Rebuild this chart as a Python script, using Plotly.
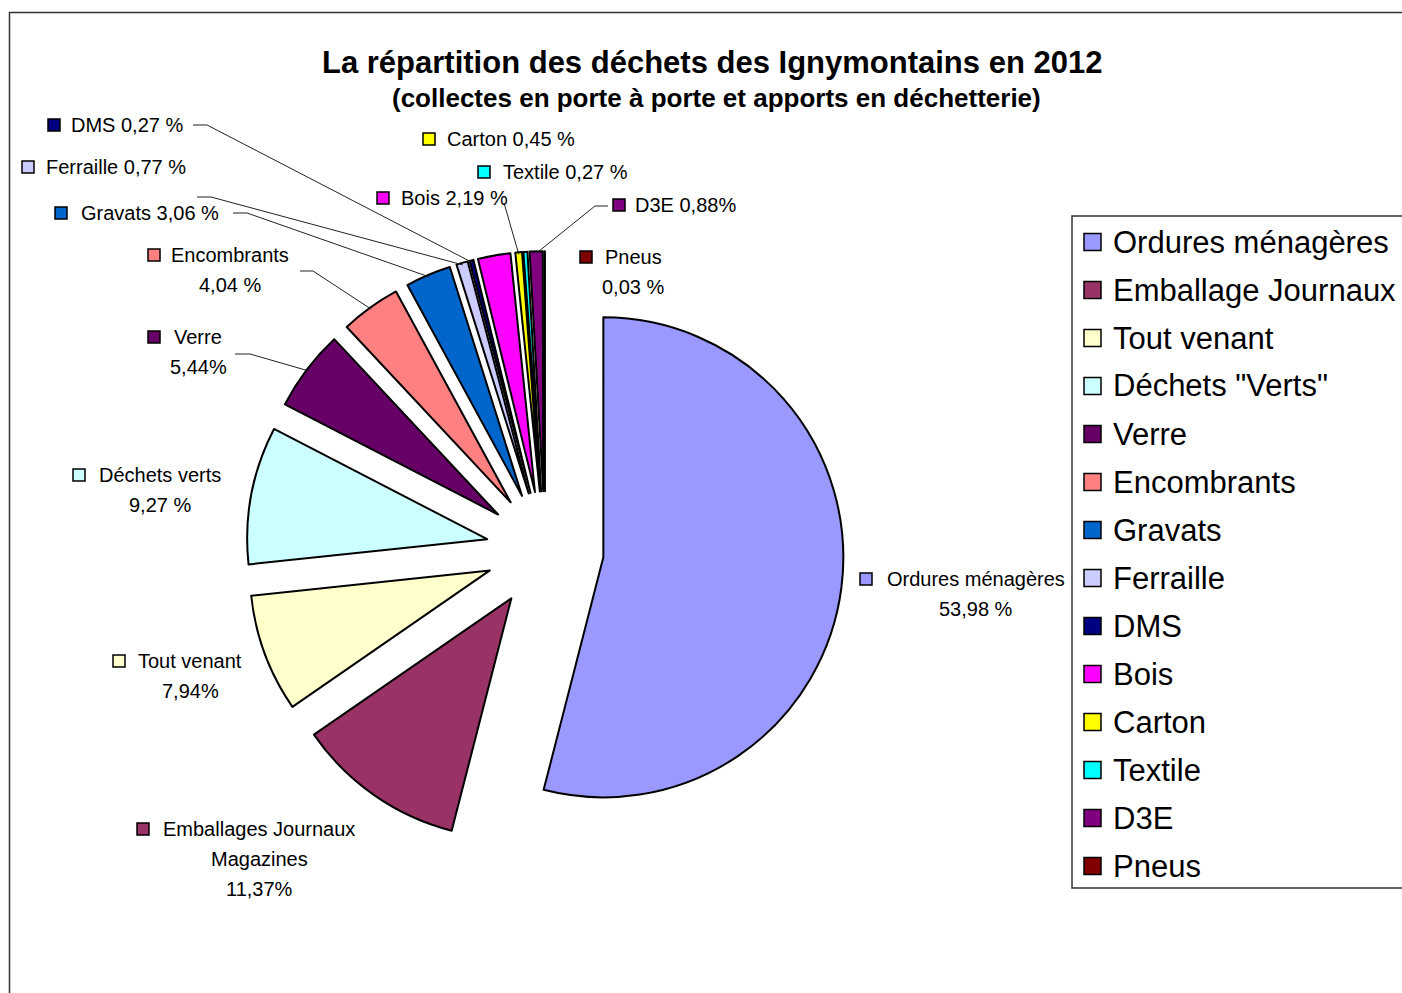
import math
import plotly.graph_objects as go

W, H = 1402, 993

# ---------------- data ----------------
categories = ["Ordures ménagères", "Emballage Journaux", "Tout venant", 'Déchets "Verts"',
              "Verre", "Encombrants", "Gravats", "Ferraille", "DMS", "Bois", "Carton",
              "Textile", "D3E", "Pneus"]
values = [53.98, 11.37, 7.94, 9.27, 5.44, 4.04, 3.06, 0.77, 0.27, 2.19, 0.45, 0.27, 0.88, 0.03]
colors = ["#9999FF", "#993366", "#FFFFCC", "#CCFFFF", "#660066", "#FF8080", "#0066CC",
          "#CCCCFF", "#000080", "#FF00FF", "#FFFF00", "#00FFFF", "#800080", "#800000"]

# data-label text (as printed on the chart)
label_lines = [
    ["Ordures ménagères", "53,98 %"],
    ["Emballages Journaux", "Magazines", "11,37%"],
    ["Tout venant", "7,94%"],
    ["Déchets verts", "9,27 %"],
    ["Verre", "5,44%"],
    ["Encombrants", "4,04 %"],
    ["Gravats 3,06 %"],
    ["Ferraille 0,77 %"],
    ["DMS 0,27 %"],
    ["Bois 2,19 %"],
    ["Carton 0,45 %"],
    ["Textile 0,27 %"],
    ["D3E 0,88%"],
    ["Pneus", "0,03 %"],
]

title_main = "La répartition des déchets des Ignymontains en 2012"
title_sub = "(collectes en porte à porte et apports en déchetterie)"

# ---------------- layout geometry (pixels) ----------------
CX, CY = 545, 550       # pie centre
R = 240                 # pie radius
PULL = 0.245            # explosion (fraction of radius)

# label placement: centre x of text, y of first line, x of legend key
label_pos = [
    (976, 579, 860), (259, 829, 137), (190, 661, 113), (160, 475, 73),
    (198, 337, 148), (230, 255, 148), (150, 213, 55), (116, 167, 22),
    (127, 125, 48), (454, 198, 377), (511, 139, 423), (565, 172, 478),
    (685, 205, 613), (633, 257, 580),
]
# leader lines: slice index -> label-side points
leaders = {
    8: [(193, 125), (207, 125)],
    7: [(197, 197), (211, 197)],
    6: [(233, 213), (247, 213)],
    5: [(300, 271), (313, 271)],
    4: [(235, 354), (250, 354)],
    10: [(504, 203)],
    12: [(608, 206), (595, 206)],
}


def px(x):
    return x / W


def py(y):
    return 1 - y / H


half = R * (1 + PULL)
dom_x = [px(CX - half), px(CX + half)]
dom_y = [py(CY + half), py(CY - half)]

fig = go.Figure()
fig.add_trace(go.Pie(
    labels=categories, values=values, sort=False, direction="clockwise", rotation=0,
    marker=dict(colors=colors, line=dict(color="black", width=2)),
    pull=[PULL] * len(values), textinfo="none", hoverinfo="label+percent",
    domain=dict(x=dom_x, y=dom_y), showlegend=False,
))

FONT = "Arial, Liberation Sans, sans-serif"
shapes = []
annotations = []

# title
annotations.append(dict(text="<b>" + title_main + "</b>", x=px(712), y=py(62), xref="paper", yref="paper",
                        showarrow=False, xanchor="center", yanchor="middle",
                        font=dict(family=FONT, size=31, color="black")))
annotations.append(dict(text="<b>" + title_sub + "</b>", x=px(716), y=py(98), xref="paper", yref="paper",
                        showarrow=False, xanchor="center", yanchor="middle",
                        font=dict(family=FONT, size=26, color="black")))

# data labels
total = sum(values)
cum = 0.0
mids = []
for v in values:
    mids.append((cum + v / 2) / total)
    cum += v

for i, lines in enumerate(label_lines):
    cx, y0, kx = label_pos[i]
    for j, t in enumerate(lines):
        annotations.append(dict(text=t, x=px(cx), y=py(y0 + 30 * j), xref="paper", yref="paper",
                                showarrow=False, xanchor="center", yanchor="middle",
                                font=dict(family=FONT, size=20, color="black")))
    shapes.append(dict(type="rect", xref="paper", yref="paper",
                       x0=px(kx), x1=px(kx + 12), y0=py(y0 - 6), y1=py(y0 + 6),
                       fillcolor=colors[i], line=dict(color="black", width=1.5)))

# leader lines to slice outer edge (computed from pie geometry)
for i, pts in leaders.items():
    ang = 2 * math.pi * mids[i]
    dx, dy = math.sin(ang), -math.cos(ang)
    ex = CX + (R * PULL + R - 2) * dx
    ey = CY + (R * PULL + R - 2) * dy
    allpts = pts + [(ex, ey)]
    path = "M " + " L ".join(f"{px(x):.5f},{py(y):.5f}" for x, y in allpts)
    shapes.append(dict(type="path", xref="paper", yref="paper", path=path,
                       line=dict(color="#222222", width=1)))

# legend (box + keys + names)
LX0, LY0, LY1 = 1072, 216, 888
shapes.append(dict(type="path", xref="paper", yref="paper",
                   path=f"M {px(1420)},{py(LY0)} L {px(LX0)},{py(LY0)} L {px(LX0)},{py(LY1)} L {px(1420)},{py(LY1)}",
                   line=dict(color="#333333", width=1.5), fillcolor="white"))
for i, name in enumerate(categories):
    yc = 242 + 48 * i
    shapes.append(dict(type="rect", xref="paper", yref="paper",
                       x0=px(1084), x1=px(1101), y0=py(yc - 8.5), y1=py(yc + 8.5),
                       fillcolor=colors[i], line=dict(color="black", width=1.5)))
    annotations.append(dict(text=name, x=px(1111), y=py(yc), xref="paper", yref="paper",
                            showarrow=False, xanchor="left", yanchor="middle",
                            font=dict(family=FONT, size=31, color="black")))

# chart frame (left and top edges visible)
shapes.append(dict(type="path", xref="paper", yref="paper",
                   path=f"M {px(9.5)},{py(1000)} L {px(9.5)},{py(12.5)} L {px(1420)},{py(12.5)}",
                   line=dict(color="#333333", width=1.5)))

fig.update_layout(
    width=W, height=H, margin=dict(l=0, r=0, t=0, b=0),
    paper_bgcolor="white", plot_bgcolor="white",
    shapes=shapes, annotations=annotations, showlegend=False,
    font=dict(family=FONT),
)

fig.write_html("out.html", config={"displayModeBar": False},
               post_script="document.body.style.margin='0px';document.body.style.overflow='hidden';")
